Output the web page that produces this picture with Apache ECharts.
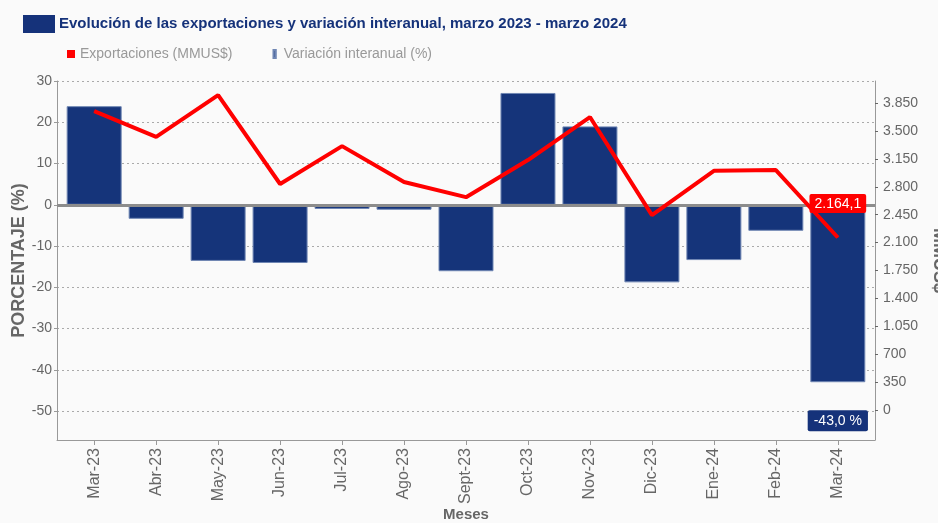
<!DOCTYPE html>
<html>
<head>
<meta charset="utf-8">
<script src="https://cdn.jsdelivr.net/npm/echarts@6/dist/echarts.min.js"></script>
<style>
  html, body { margin: 0; padding: 0; background: #fafafa; }
  #chart { width: 938px; height: 523px; }
</style>
</head>
<body>
<div id="chart"></div>
<script>
const months = ['Mar-23', 'Abr-23', 'May-23', 'Jun-23', 'Jul-23', 'Ago-23', 'Sept-23',
  'Oct-23', 'Nov-23', 'Dic-23', 'Ene-24', 'Feb-24', 'Mar-24'];
// variación interanual (%)
const variacion = [23.9, -3.4, -13.6, -14.1, -1.0, -1.2, -16.1, 27.1, 19.0, -18.8, -13.4, -6.3, -43.0];
// exportaciones (MMUS$)
const exportaciones = [3750, 3425, 3950, 2835, 3310, 2860, 2670, 3135, 3675, 2445, 3000, 3010, 2164.1];
const pctTicks = [-50, -40, -30, -20, -10, 0, 10, 20, 30];
const mmusTicks = [0, 350, 700, 1050, 1400, 1750, 2100, 2450, 2800, 3150, 3500, 3850];
const monthIdx = months.map((m, i) => i);

const fmt = (v, d) => v.toLocaleString('es-CL', { minimumFractionDigits: d, maximumFractionDigits: d });

const chart = echarts.init(document.getElementById('chart'));
const font = 'Liberation Sans, Arial, sans-serif';
const last = months.length - 1;

chart.setOption({
  backgroundColor: '#fafafa',
  animation: false,
  textStyle: { fontFamily: font },
  graphic: [
    { type: 'rect', left: 23, top: 15, shape: { width: 32, height: 18 }, style: { fill: '#15327a' } },
    { type: 'text', left: 59, top: 16, style: {
      text: 'Evolución de las exportaciones y variación interanual, marzo 2023 - marzo 2024',
      font: 'bold 15px "Liberation Sans", sans-serif', fill: '#15327a' } }
  ],
  legend: {
    left: 62, top: 42, itemGap: 40, itemWidth: 8, itemHeight: 8,
    textStyle: { color: '#999', fontSize: 14, fontFamily: font },
    data: [
      { name: 'Exportaciones (MMUS$)', icon: 'rect', itemStyle: { color: '#ff0000' } },
      { name: 'Variación interanual (%)', icon: 'path://M0,0 H4 V14 H0 Z', itemStyle: { color: '#15327a' } }
    ]
  },
  grid: { left: 57, right: 63, top: 81, bottom: 83, outerBoundsMode: 'none' },
  xAxis: {
    type: 'value',
    min: -0.6,
    max: 12.6,
    name: 'Meses',
    nameLocation: 'middle',
    nameGap: 67,
    nameMoveOverlap: false,
    nameTextStyle: { color: '#666', fontWeight: 'bold', fontSize: 15 },
    splitLine: { show: false },
    axisLine: { show: true, onZero: false, lineStyle: { color: '#999' } },
    axisTick: { show: true, length: 5, customValues: monthIdx, lineStyle: { color: '#999' } },
    axisLabel: { rotate: 90, color: '#666', fontSize: 16, margin: 8, customValues: monthIdx,
      formatter: v => months[v] }
  },
  yAxis: [
    {
      type: 'value', min: -57, max: 30,
      name: 'PORCENTAJE (%)', nameLocation: 'middle', nameGap: 29, nameRotate: 90,
      nameMoveOverlap: false,
      nameTextStyle: { color: '#666', fontWeight: 'bold', fontSize: 18 },
      axisLine: { show: true, onZero: false, lineStyle: { color: '#999' } },
      axisTick: { show: true, length: 3, customValues: pctTicks, lineStyle: { color: '#999' } },
      axisLabel: { color: '#666', fontSize: 14, margin: 5, customValues: pctTicks },
      splitLine: { show: true, lineStyle: { color: '#aaa', type: [2, 3] } }
    },
    {
      type: 'value', min: -376, max: 4127, position: 'right',
      name: 'MMUS$', nameLocation: 'middle', nameGap: 55, nameRotate: -90,
      nameMoveOverlap: false,
      nameTextStyle: { color: '#666', fontWeight: 'bold', fontSize: 18 },
      axisLine: { show: true, onZero: false, lineStyle: { color: '#999' } },
      axisTick: { show: true, length: 3, customValues: mmusTicks, lineStyle: { color: '#666' } },
      axisLabel: { color: '#666', fontSize: 14, margin: 8, customValues: mmusTicks,
        formatter: v => fmt(v, 0) },
      splitLine: { show: false }
    }
  ],
  series: [
    {
      name: 'Variación interanual (%)',
      type: 'bar',
      yAxisIndex: 0,
      barWidth: 55,
      data: variacion.map((v, i) => i === last ? {
        value: [i, v],
        label: {
          show: true, position: 'bottom', distance: 28,
          formatter: p => fmt(p.value[1], 1) + ' %',
          color: '#fff', fontSize: 14, backgroundColor: '#15327a',
          padding: [4, 6, 3, 6], borderRadius: 2
        }
      } : [i, v]),
      itemStyle: { color: '#15347a', borderColor: '#6f86b3', borderWidth: 1 },
      markLine: {
        silent: true, symbol: 'none', label: { show: false },
        lineStyle: { color: '#8c8c8c', width: 3, type: 'solid' },
        data: [{ yAxis: 0 }]
      }
    },
    {
      name: 'Exportaciones (MMUS$)',
      type: 'line',
      yAxisIndex: 1,
      z: 5,
      symbol: 'circle',
      symbolSize: 1,
      showSymbol: true,
      lineStyle: { color: '#ff0000', width: 4 },
      itemStyle: { color: '#ff0000' },
      data: exportaciones.map((v, i) => i === last ? {
        value: [i, v],
        label: {
          show: true, position: 'top', distance: 24,
          formatter: p => fmt(p.value[1], 1),
          color: '#fff', fontSize: 14, backgroundColor: '#ff0000',
          padding: [3, 5, 2, 5], borderRadius: 2
        }
      } : [i, v])
    }
  ]
});
</script>
</body>
</html>
